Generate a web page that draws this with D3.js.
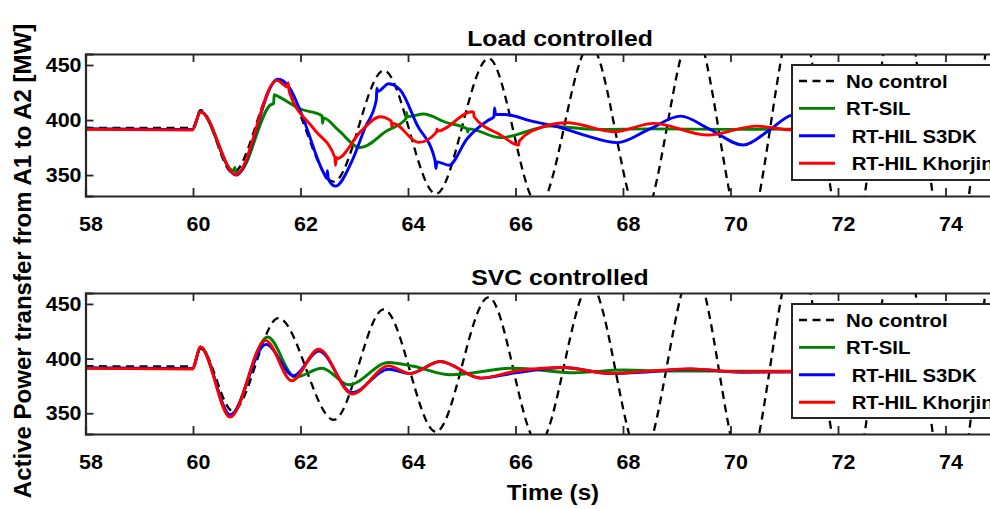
<!DOCTYPE html>
<html><head><meta charset="utf-8">
<script src="https://cdn.jsdelivr.net/npm/d3@7"></script>
<style>
body{margin:0;background:#fff}
text{font-family:"Liberation Sans",Arial,sans-serif;font-weight:bold;fill:#000;white-space:pre}
</style>
</head><body>
<svg id="c" width="990" height="509" xmlns="http://www.w3.org/2000/svg"></svg>
<script>
// ---------------- data ----------------
const xTicks = [58, 60, 62, 64, 66, 68, 70, 72, 74];
const yTicks = [350, 400, 450];
const panelTitles = ["Load controlled", "SVC controlled"];
const seriesNames = ["No control", "RT-SIL", " RT-HIL S3DK", " RT-HIL Khorjin"];
const xLabel = "Time (s)";
const yLabel = "Active Power transfer from A1 to A2 [MW]";

// [time (s), power (MW)]
const noControl = [[58,393],[59.99,392.8],[60.14,409],[60.74,352],[61.59,437],[62.62,344],[63.55,445],
  [64.52,333],[65.5,456],[66.43,322],[67.39,468],[68.34,308],[69.31,483],[70.27,293],[71.23,500],
  [72.2,275],[73.15,520],[74.1,255],[75.1,545],[76,420]];

const loadSIL = [[58,392],[59.99,391.5],[60.14,407.5],[60.75,354],[60.78,357],[60.8,352],[60.84,352],
  [61.45,414],[61.5,415],[61.51,423],[61.6,421],[62.0,410],[62.4,404],[62.41,397],[62.43,402],
  [62.7,391],[63.11,375],[63.6,390],[63.96,401],[63.97,407],[63.99,403],[64.29,405.5],[64.7,398],
  [65.1,392],[65.11,389],[65.13,392],[65.72,384],[66.65,394.5],[67.5,391.5],[68.5,392],[70,391.5],
  [72,392],[76,392]];

const loadS3DK = [[58,392],[59.99,391.5],[60.14,407.5],[60.8,350],[61.58,437],[61.8,429],[62.0,408],
  [62.43,352],[62.49,347],[62.5,354],[62.52,346],[62.65,340],[62.95,362],[63.2,393],[63.41,418],
  [63.42,429],[63.44,426],[63.64,433],[63.86,427],[64.17,395.5],[64.5,364],[64.52,356],[64.54,362],
  [64.76,359],[65.1,383],[65.5,400],[65.6,403],[65.61,411],[65.63,405],[65.8,405],[66.3,399],
  [66.85,393],[67.3,386],[67.89,379.5],[68.5,392],[69.07,403.6],[69.6,392],[70.24,377.3],[70.7,390],
  [71.14,404.5],[71.8,408],[72.5,398],[76,392]];

const loadKhorjin = [[58,391.5],[59.99,391],[60.14,407.5],[60.8,350.5],[61.56,436],[61.76,430],
  [61.77,434],[61.79,426],[62.24,392.4],[62.64,366],[62.65,359],[62.67,366],[62.68,365],[63.11,389],
  [63.48,403],[63.69,399],[63.7,394],[63.72,397],[64.2,379.7],[64.53,389],[64.54,392],[64.55,390],
  [65.19,407.6],[65.22,407],[65.23,403],[65.72,386.5],[66.06,377.3],[66.07,381],[66.52,394],
  [66.96,397.6],[67.83,389.4],[68.57,397],[69.56,386.4],[70.49,394.5],[71.14,391],[72,392],[76,392]];

const svcSIL = [[58,391.5],[59.99,391],[60.14,410.6],[60.69,348],[61.39,419.7],[61.9,383],[62.4,391.2],
  [62.9,376],[63.64,396.4],[64.1,393],[64.79,385.2],[65.97,391.2],[67.1,387],[68.0,389.5],[69,388.5],
  [70,388.5],[72,388.5],[76,388.5]];

const svcS3DK = [[58,391.5],[59.99,391],[60.14,410],[60.69,348.6],[61.36,413],[61.87,384.3],[62.34,407],
  [62.96,369],[63.64,390.3],[64.04,386.4],[64.6,397.3],[65.35,382.1],[66.0,387],[66.9,391.8],
  [67.76,386.4],[68.5,388],[69.25,390.5],[70.2,387.5],[72,388],[76,388]];

const svcKhorjin = [[58,391],[59.99,390.5],[60.14,410.6],[60.69,346.4],[61.35,416.7],[61.84,379.7],
  [62.34,408.5],[62.96,367.6],[63.64,393.3],[64.04,386.4],[64.6,397.3],[65.35,382.1],[66.0,388.5],
  [66.9,391.8],[67.76,386.4],[68.5,388.5],[69.25,390.6],[70.2,387.8],[72,388.5],[76,388.5]];

const seriesColors = ["#000000", "#008000", "#0000ff", "#ff0000"];

// ---------------- drawing ----------------
const svg = d3.select("#c");
svg.append("rect").attr("width", 990).attr("height", 509).attr("fill", "#fff");

const x = d3.scaleLinear().domain([58, 76]).range([85.5, 1053]);
const SX = 1.1;

function stext(g, px, py, str, size, anchor) {
  return g.append("text")
    .attr("transform", `translate(${px},${py}) scale(${SX},1)`)
    .attr("text-anchor", anchor)
    .style("font-size", size + "px")
    .text(str);
}

const panels = [
  { top: 54, bottom: 196, title: panelTitles[0], series: [noControl, loadSIL, loadS3DK, loadKhorjin] },
  { top: 293, bottom: 434, title: panelTitles[1], series: [noControl, svcSIL, svcS3DK, svcKhorjin] }
];

panels.forEach((p, i) => {
  const y = d3.scaleLinear().domain([331, 460]).range([p.bottom, p.top]);
  const g = svg.append("g");
  const clipId = "clip" + i;
  svg.append("clipPath").attr("id", clipId).append("rect")
    .attr("x", x.range()[0]).attr("y", p.top)
    .attr("width", x.range()[1] - x.range()[0]).attr("height", p.bottom - p.top);

  const line = d3.line().x(d => x(d[0])).y(d => y(d[1])).curve(d3.curveMonotoneX);
  const lg = g.append("g").attr("clip-path", `url(#${clipId})`);
  p.series.forEach((s, k) => {
    lg.append("path").datum(s).attr("d", line)
      .attr("fill", "none").attr("stroke", seriesColors[k])
      .attr("stroke-width", k === 0 ? 2.3 : 2.9)
      .attr("stroke-dasharray", k === 0 ? "8,5.5" : null)
      .attr("stroke-linejoin", "round");
  });

  // axes frame
  const axc = "#262626";
  const xb = d3.axisBottom(x).tickValues(xTicks).tickSize(-8).tickFormat("");
  const xt = d3.axisTop(x).tickValues(xTicks).tickSize(-8).tickFormat("");
  const yl = d3.axisLeft(y).tickValues(yTicks).tickSize(-8).tickFormat("");
  [[xb, `translate(0,${p.bottom})`], [xt, `translate(0,${p.top})`], [yl, `translate(${x.range()[0]},0)`]]
    .forEach(([ax, tr]) => {
      const a = g.append("g").attr("transform", tr).call(ax);
      a.selectAll("path.domain").attr("stroke", axc).attr("stroke-width", 2.2);
      a.selectAll(".tick line").attr("stroke", axc).attr("stroke-width", 1.8);
    });

  // tick labels
  xTicks.forEach(t => stext(g, x(t) + 5.5, p.bottom + 35, String(t), 19.5, "middle"));
  yTicks.forEach(t => stext(g, 81.5, y(t) + 7, String(t), 19.5, "end"));

  // title
  stext(g, 560, p.top - 8, p.title, 22.5, "middle");

  // legend
  const lt = i === 0 ? 65 : 304, lb = i === 0 ? 180 : 418;
  const leg = g.append("g");
  leg.append("rect").attr("x", 792).attr("y", lt).attr("width", 260).attr("height", lb - lt)
    .attr("fill", "#fff").attr("stroke", axc).attr("stroke-width", 2);
  seriesNames.forEach((nm, k) => {
    const yy = lt + 16 + k * 27.4;
    leg.append("line").attr("x1", 799).attr("x2", 835).attr("y1", yy).attr("y2", yy)
      .attr("stroke", seriesColors[k]).attr("stroke-width", k === 0 ? 2.3 : 2.9)
      .attr("stroke-dasharray", k === 0 ? "8,5.5" : null);
    stext(leg, 846, yy + 7, nm, 18.5, "start");
  });
});

// axis labels
stext(svg, 553, 500, xLabel, 22, "middle");
svg.append("text")
  .attr("transform", "translate(31,261) rotate(-90)")
  .attr("text-anchor", "middle")
  .style("font-size", "24px")
  .text(yLabel);
</script>
</body></html>
